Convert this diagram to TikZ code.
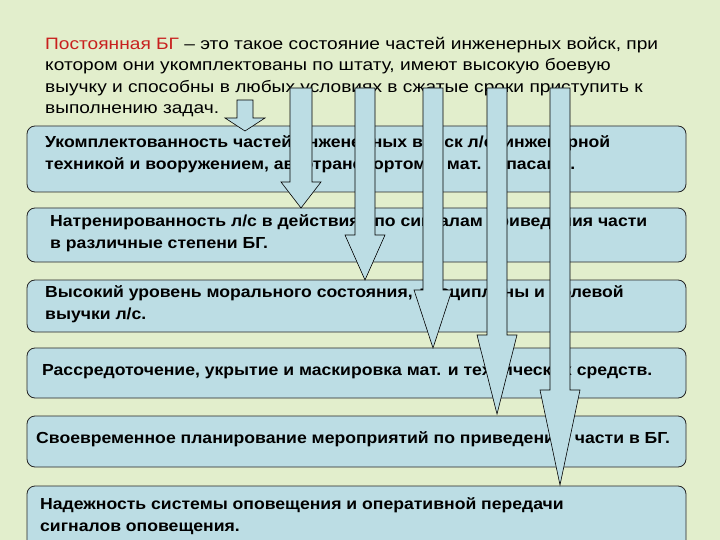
\documentclass[tikz,border=0pt]{standalone}
\usepackage{fontspec}
\setmainfont{Liberation Sans}
\newfontfamily\widefont[FakeStretch=1.16]{Liberation Sans}
\newfontfamily\boxfont[FakeStretch=1.1]{Liberation Sans}
\definecolor{bg}{HTML}{E2EECC}
\definecolor{bx}{HTML}{BCDDE4}
\definecolor{rd}{HTML}{C8201E}
\newcommand\blockarr[6]{\draw[arr] (#1-#2,#4) -- (#1+#2,#4) -- (#1+#2,#5) -- (#1+#3,#5) -- (#1,#6) -- (#1-#3,#5) -- (#1-#2,#5) -- cycle;}
\begin{document}
\begin{tikzpicture}[x=1pt,y=-1pt,
  box/.style={draw=black!85,line width=0.8pt,fill=bx,rounded corners=8pt},
  arr/.style={draw=black,line width=0.6pt,fill=bx},
  txt/.style={anchor=west,align=left,inner sep=0pt,font=\boxfont\fontsize{16}{21.5}\selectfont\bfseries}]
\fill[bg] (0,0) rectangle (720,540);
\useasboundingbox (0,0) rectangle (720,540);
\node[anchor=north west,align=left,inner sep=0pt,font=\widefont\fontsize{16.5}{21.5}\selectfont] (title) at (45,37) {\textcolor{rd}{Постоянная БГ} – это такое состояние частей инженерных войск, при\\котором они укомплектованы по штату, имеют высокую боевую\\выучку и способны в любых условиях в сжатые сроки приступить к\\выполнению задач.};
\draw[box] (27,126) rectangle (686,192);
\draw[box] (27,208) rectangle (686,262);
\draw[box] (27,280) rectangle (686,332);
\draw[box] (27,348) rectangle (686,398);
\draw[box] (27,416) rectangle (686,467);
\draw[box] (27,486) rectangle (686,552);
\node[txt] (t1) at (45,154) {Укомплектованность частей инженерных войск л/с, инженерной\\техникой и вооружением, автотранспортом и мат. запасами.};
\node[txt] (t2) at (50,233) {Натренированность л/с в действиях по сигналам приведения части\\в различные степени БГ.};
\node[txt] (t3) at (45,304) {Высокий уровень морального состояния, дисциплины и полевой\\выучки л/с.};
\node[txt] (t4) at (42,372) {Рассредоточение, укрытие и маскировка мат. и технических средств.};
\node[txt] (t5) at (36,439) {Своевременное планирование мероприятий по приведению части в БГ.};
\node[txt] (t6) at (40,516) {Надежность системы оповещения и оперативной передачи\\сигналов оповещения.};
\blockarr{245}{8}{20}{100}{118}{131}
\blockarr{301}{11}{20}{88}{182}{208}
\blockarr{365}{10}{20}{88}{235}{280}
\blockarr{433}{10}{19}{88}{290}{348}
\blockarr{497}{10}{20}{88}{335}{414}
\blockarr{560}{10}{20}{88}{390}{485}
\end{tikzpicture}
\end{document}
